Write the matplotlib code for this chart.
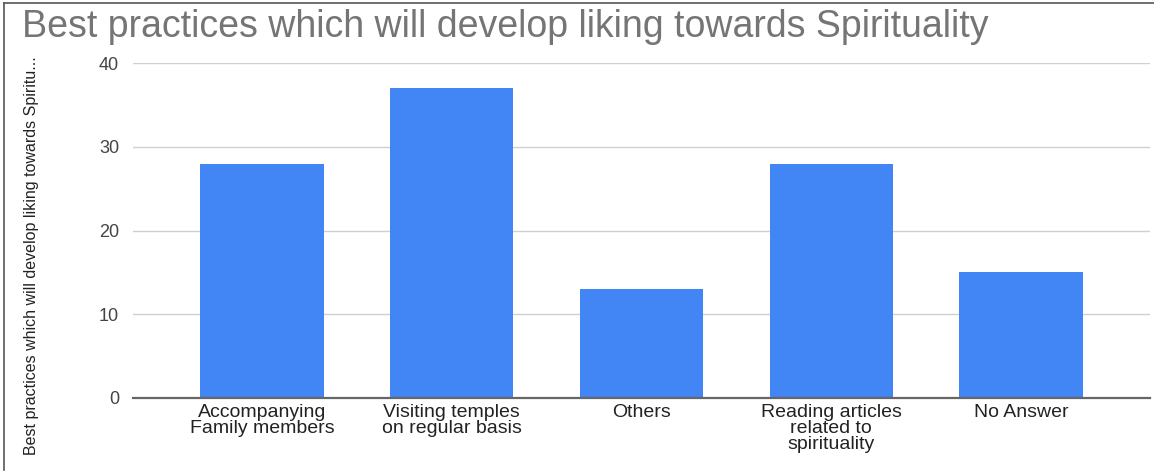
import matplotlib.pyplot as plt
from matplotlib.lines import Line2D

categories = ['Accompanying\nFamily members', 'Visiting temples\non regular basis',
              'Others', 'Reading articles\nrelated to\nspirituality', 'No Answer']
counts = [28, 37, 13, 28, 15]
yticks = [0, 10, 20, 30, 40]
title = 'Best practices which will develop liking towards Spirituality'
ylabel = 'Best practices which will develop liking towards Spiritu...'

plt.rcParams['font.family'] = ['Liberation Sans', 'DejaVu Sans']

W, H = 1154, 475
fig = plt.figure(figsize=(W / 100, H / 100), dpi=100)
ax = fig.add_axes([133 / W, 1 - 398 / H, (1150 - 133) / W, (398 - 63) / H])

x = range(len(categories))
ax.bar(x, counts, width=0.65, color='#4285f4', zorder=3)

ax.set_xlim(-0.68, len(categories) - 1 + 0.68)
ax.set_ylim(0, 40)
ax.set_yticks(yticks)
ax.set_xticks(list(x))
ax.set_xticklabels(categories, fontsize=14, color='#222222', linespacing=0.95)
ax.tick_params(axis='x', length=0, pad=4)
ax.tick_params(axis='y', length=0, pad=10, labelsize=13, labelcolor='#444444')

ax.grid(axis='y', color='#d0d0d0', lw=1, zorder=0)
for s in ['top', 'right', 'left']:
    ax.spines[s].set_visible(False)
ax.spines['bottom'].set_color('#666666')
ax.spines['bottom'].set_linewidth(1.6)
ax.spines['bottom'].set_zorder(4)

fig.text(22 / W, 1 - 27 / H, title, fontsize=27, color='#757575',
         va='center', ha='left')
fig.text(32 / W, 1 - 256 / H, ylabel, rotation=90, fontsize=11.5,
         va='center', ha='center', color='#222222')

# thin frame on the left and top edges
fig.add_artist(Line2D([3.5 / W, 3.5 / W], [1 - 3 / H, 1 - 470 / H],
                      transform=fig.transFigure, color='#555555', lw=1.2))
fig.add_artist(Line2D([3.5 / W, 1], [1 - 3 / H, 1 - 3 / H],
                      transform=fig.transFigure, color='#555555', lw=1.2))

fig.savefig('out.png', dpi=100)
